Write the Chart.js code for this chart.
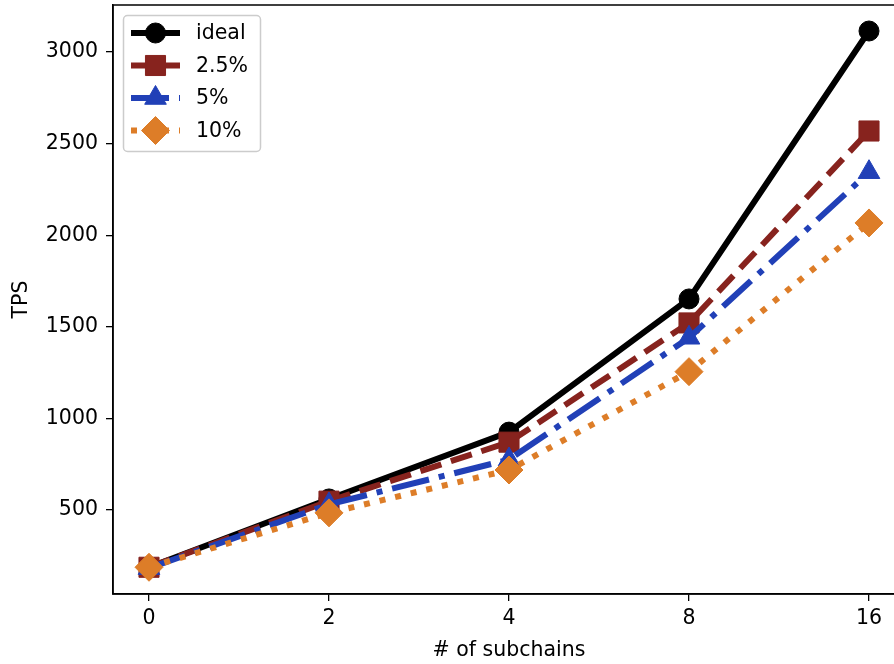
<!DOCTYPE html>
<html><head><meta charset="utf-8">
<script src="https://cdn.jsdelivr.net/npm/chart.js@4/dist/chart.umd.min.js"></script>
<style>
html,body{margin:0;padding:0;background:#fff;overflow:hidden;width:894px;height:664px}
#wrap{width:894px;height:664px;overflow:hidden;position:relative}
canvas{display:block}
</style></head>
<body><div id="wrap"><canvas id="c" width="920" height="664"></canvas></div>
<script>
const categories = ['0', '2', '4', '8', '16'];
const seriesNames = ['ideal', '2.5%', '5%', '10%'];
const idealTPS = [187, 560, 925, 1652, 3115];
const tps2_5 = [187, 548, 870, 1521, 2569];
const tps5 = [182, 530, 775, 1440, 2344];
const tps10 = [187, 484, 718, 1255, 2067];
const yTicks = [500, 1000, 1500, 2000, 2500, 3000];
const xTitle = '# of subchains';
const yTitle = 'TPS';

const FONT = "'DejaVu Sans', sans-serif";
const FS = 20.5;
const LW = 6;

function pts(arr) { return arr.map((v, i) => ({x: i, y: v})); }

const styles = [
  {color: '#000000', dash: [], style: 'circle', r: 10},
  {color: '#87231E', dash: [22, 10], style: 'rect', r: 14.2},
  {color: '#2140B7', dash: [38, 10, 6, 10], style: 'triangle', r: 12.5},
  {color: '#DD7D28', dash: [6, 10], style: 'rectRot', r: 14}
];
const seriesData = [idealTPS, tps2_5, tps5, tps10];

const datasets = seriesData.map((arr, i) => ({
  label: seriesNames[i],
  data: pts(arr),
  borderColor: styles[i].color,
  backgroundColor: styles[i].color,
  borderWidth: LW,
  borderDash: styles[i].dash,
  borderCapStyle: 'butt',
  pointStyle: styles[i].style,
  pointRadius: styles[i].r,
  pointHoverRadius: styles[i].r,
  pointBorderWidth: 1,
  pointBorderColor: styles[i].color,
  pointBackgroundColor: styles[i].color,
  tension: 0,
  fill: false,
  clip: false,
  order: seriesData.length - i
}));

const framePlugin = {
  id: 'frame',
  afterDraw(chart) {
    const ctx = chart.ctx, a = chart.chartArea;
    ctx.save();
    ctx.strokeStyle = '#000';
    ctx.lineWidth = 1.5;
    ctx.strokeRect(a.left, a.top, a.right - a.left, a.bottom - a.top);
    ctx.restore();
  }
};

const legendPlugin = {
  id: 'mplLegend',
  afterDraw(chart) {
    const ctx = chart.ctx;
    ctx.save();
    ctx.beginPath();
    ctx.roundRect(123.5, 15.5, 137, 136, 4);
    ctx.fillStyle = 'rgba(255,255,255,0.8)';
    ctx.fill();
    ctx.strokeStyle = '#cccccc';
    ctx.lineWidth = 1.5;
    ctx.stroke();
    chart.data.datasets.forEach((ds, i) => {
      const cy = 33 + i * 32.5;
      ctx.beginPath();
      ctx.setLineDash(ds.borderDash || []);
      ctx.lineCap = 'butt';
      ctx.lineWidth = ds.borderWidth;
      ctx.strokeStyle = ds.borderColor;
      ctx.moveTo(131, cy);
      ctx.lineTo(180, cy);
      ctx.stroke();
      ctx.setLineDash([]);
      ctx.fillStyle = ds.pointBackgroundColor;
      ctx.strokeStyle = ds.pointBorderColor;
      ctx.lineWidth = 1;
      Chart.helpers.drawPoint(ctx, {pointStyle: ds.pointStyle, radius: ds.pointRadius, borderWidth: 1, rotation: 0}, 155.5, cy);
      ctx.fillStyle = '#000';
      ctx.font = FS + 'px ' + FONT;
      ctx.textBaseline = 'middle';
      ctx.textAlign = 'left';
      ctx.fillText(ds.label, 196, cy + 1);
    });
    ctx.restore();
  }
};

new Chart(document.getElementById('c'), {
  type: 'line',
  data: {datasets},
  options: {
    responsive: false,
    animation: false,
    events: [],
    layout: {autoPadding: false, padding: {top: 5, left: 0, right: 15, bottom: 0}},
    plugins: {legend: {display: false}, tooltip: {enabled: false}},
    scales: {
      x: {
        type: 'linear',
        min: -0.2, max: 4.2,
        afterFit(s) { s.height = 70; s.paddingLeft = 0; s.paddingRight = 0; },
        afterBuildTicks(s) { s.ticks = categories.map((_, i) => ({value: i})); },
        ticks: {
          callback: (v) => categories[v],
          font: {family: FONT, size: FS},
          color: '#000',
          padding: 5,
          maxRotation: 0,
          autoSkip: false
        },
        grid: {display: true, drawOnChartArea: false, drawTicks: true, tickLength: 7, color: '#000', lineWidth: 1.3},
        border: {display: true, color: '#000', width: 1.5},
        title: {display: true, text: xTitle, font: {family: FONT, size: FS}, color: '#000', padding: {top: 1, bottom: 1}}
      },
      y: {
        type: 'linear',
        min: 41, max: 3257,
        afterFit(s) { s.width = 113; s.paddingTop = 0; s.paddingBottom = 0; },
        afterBuildTicks(s) { s.ticks = yTicks.map(v => ({value: v})); },
        ticks: {
          callback: (v) => String(v),
          font: {family: FONT, size: FS},
          color: '#000',
          padding: 8
        },
        grid: {display: true, drawOnChartArea: false, drawTicks: true, tickLength: 7, color: '#000', lineWidth: 1.3},
        border: {display: true, color: '#000', width: 1.5},
        title: {display: true, text: yTitle, font: {family: FONT, size: FS}, color: '#000', padding: {top: 9, bottom: 9}}
      }
    }
  },
  plugins: [framePlugin, legendPlugin]
});
</script>
</body></html>
